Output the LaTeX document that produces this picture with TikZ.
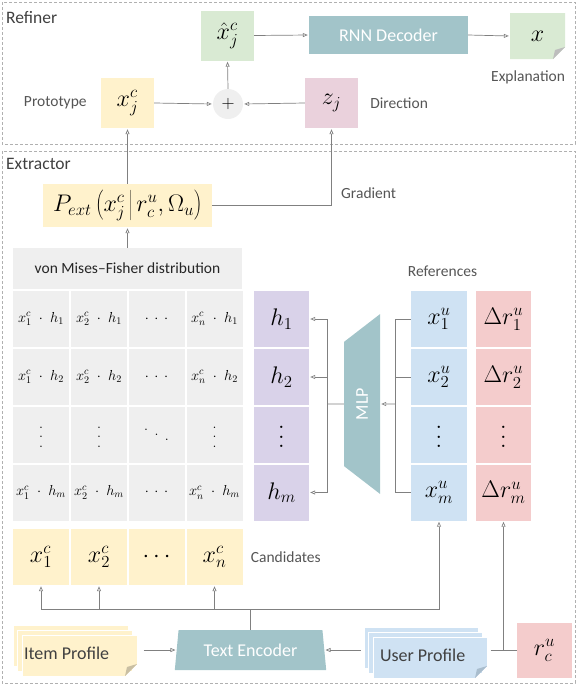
\documentclass[tikz,border=0pt]{standalone}
\usepackage{fix-cm}
\usepackage[no-math]{fontspec}
\setmainfont{Carlito}
\usetikzlibrary{arrows.meta,positioning,shapes.geometric,shadows}

\definecolor{yel}{HTML}{FFF2CC}
\definecolor{grn}{HTML}{D9EAD3}
\definecolor{tealblock}{HTML}{A2C4C9}
\definecolor{pnk}{HTML}{EAD1DC}
\definecolor{prp}{HTML}{D9D2E9}
\definecolor{blu}{HTML}{CFE2F3}
\definecolor{rd}{HTML}{F4CCCC}
\definecolor{cellgray}{HTML}{EFEFEF}
\definecolor{linegray}{HTML}{808080}
\definecolor{framegray}{HTML}{B0B0B0}
\definecolor{labelgray}{HTML}{555555}
\definecolor{titlegray}{HTML}{404040}
\definecolor{foldgray}{HTML}{BDBDBD}
\definecolor{itemfold}{HTML}{C9BFA3}
\definecolor{userfold}{HTML}{A9BDCD}

\newcommand{\bigmath}{\fontsize{24}{28}\selectfont}
\newcommand{\smallmath}{\fontsize{14.5}{17}\selectfont}
% dots with a fixed, wide spacing
\newcommand{\tallvdots}{\vbox{\baselineskip=9.5pt\lineskiplimit=0pt\kern4pt\hbox{$.$}\hbox{$.$}\hbox{$.$}}}
\newcommand{\wideddots}{$\raise10pt\hbox{$.$}\mkern8mu\raise5pt\hbox{$.$}\mkern8mu\hbox{$.$}$}
\newcommand{\widecdots}{${\cdot}\mkern7mu{\cdot}\mkern7mu{\cdot}$}

\tikzset{
  folddoc/.style 2 args={path picture={
    \fill[#1] (path picture bounding box.north west) -- (path picture bounding box.north east)
      -- ([yshift=12pt]path picture bounding box.south east) -- ([xshift=-12pt]path picture bounding box.south east)
      -- (path picture bounding box.south west) -- cycle;
    \fill[#2] ([yshift=12pt]path picture bounding box.south east) -- ([xshift=-12pt]path picture bounding box.south east)
      -- ([xshift=-10pt,yshift=9pt]path picture bounding box.south east) -- cycle;
  }},
}

\begin{document}
\begin{tikzpicture}[x=1pt,y=-1pt,
  mbox/.style={minimum width=53pt,minimum height=50pt,inner sep=0pt,font=\bigmath},
  cellbox/.style={fill=cellgray,minimum width=56pt,minimum height=56pt,inner sep=0pt,font=\smallmath},
  sidebox/.style={minimum width=55pt,minimum height=56pt,inner sep=0pt,font=\bigmath},
  blockbox/.style={fill=tealblock,text=white,inner sep=0pt,font=\fontsize{18}{20}\selectfont},
  lbl/.style={text=labelgray,font=\fontsize{15.5}{18}\selectfont,inner sep=0pt},
  paneltitle/.style={text=titlegray,font=\fontsize{17.5}{20}\selectfont,inner sep=0pt,anchor=north west},
  conn/.style={linegray,line width=0.7pt},
  arr/.style={conn,-{Triangle[open,length=5pt,width=4pt]},shorten >=1pt},
  dashframe/.style={draw=framegray,line width=0.8pt,dash pattern=on 3pt off 2pt},
  profile/.style={draw=white,line width=1pt,minimum height=41pt,text=titlegray,
    font=\fontsize{18}{20}\selectfont},
]
\useasboundingbox (0,0) rectangle (578,686);

% Refiner
\draw[dashframe] (2,2) rectangle (575,144);
\node[paneltitle] (reftitle) at (6,11) {Refiner};
\node[mbox,fill=grn] (xhat) at (227.5,35.5) {$\hat{x}_j^c$};
\node[blockbox,minimum width=159pt,minimum height=38pt] (rnn) at (388.5,35) {RNN Decoder};
\node[mbox,minimum width=55pt,minimum height=46pt,folddoc={grn}{foldgray}] (xexp) at (537.5,36) {$x$};
\node[lbl,anchor=north east] (expl) at ([yshift=-11pt]xexp.south east) {Explanation};
\node[mbox,fill=yel] (proto) at (127.5,103) {$x_j^c$};
\node[lbl,left=14pt of proto] (protolbl) {Prototype};
\node[circle,fill=cellgray,minimum size=30pt,inner sep=0pt,font=\fontsize{18}{18}\selectfont] (plus) at (228,104) {$+$};
\node[mbox,fill=pnk] (zj) at (331.5,103) {$z_j$};
\node[lbl,right=12pt of zj] (dirlbl) {Direction};

\draw[arr] (proto.east) -- (plus.west);
\draw[arr] (zj.west) -- (plus.east);
\draw[arr] (plus.north) -- (xhat.south);
\draw[arr] (xhat.east) -- (rnn.west);
\draw[arr] (rnn.east) -- (xexp.west);

% Extractor
\draw[dashframe] (2,151) rectangle (575,683);
\node[paneltitle] (exttitle) at (6,158) {Extractor};
\node[fill=yel,minimum width=169pt,minimum height=43pt,inner sep=0pt,font=\bigmath] (pext) at (127.5,205.5)
  {$P_{ext}\left(x_j^c \,\middle|\, r_c^u, \Omega_u\right)$};
\node[lbl,anchor=west] (gradlbl) at (341,193) {Gradient};
\node[fill=cellgray,minimum width=229pt,minimum height=41pt,inner sep=0pt,text=black!85,
  font=\fontsize{15.5}{18}\selectfont] (vmf) at (127.5,268.5) {von Mises--Fisher distribution};

\draw[arr] (vmf.north) -- (pext.south);
\draw[arr] (pext.north) -- (proto.south);
\draw[arr] (pext.east) -| (zj.south);

% similarity matrix
\node[cellbox] (m11) at (41,319) {$x_1^c \;\cdot\; h_1$};
\node[cellbox] (m12) at (99,319) {$x_2^c \;\cdot\; h_1$};
\node[cellbox] (m13) at (156.5,319) {\widecdots};
\node[cellbox] (m14) at (214.5,319) {$x_n^c \;\cdot\; h_1$};
\node[cellbox] (m21) at (41,377) {$x_1^c \;\cdot\; h_2$};
\node[cellbox] (m22) at (99,377) {$x_2^c \;\cdot\; h_2$};
\node[cellbox] (m23) at (156.5,377) {\widecdots};
\node[cellbox] (m24) at (214.5,377) {$x_n^c \;\cdot\; h_2$};
\node[cellbox] (m31) at (41,435) {\tallvdots};
\node[cellbox] (m32) at (99,435) {\tallvdots};
\node[cellbox] (m33) at (156.5,435) {\wideddots};
\node[cellbox] (m34) at (214.5,435) {\tallvdots};
\node[cellbox] (m41) at (41,492.5) {$x_1^c \;\cdot\; h_m$};
\node[cellbox] (m42) at (99,492.5) {$x_2^c \;\cdot\; h_m$};
\node[cellbox] (m43) at (156.5,492.5) {\widecdots};
\node[cellbox] (m44) at (214.5,492.5) {$x_n^c \;\cdot\; h_m$};

% candidates
\node[cellbox,fill=yel,font=\bigmath] (c1) at (41,557) {$x_1^c$};
\node[cellbox,fill=yel,font=\bigmath] (c2) at (99,557) {$x_2^c$};
\node[cellbox,fill=yel,font=\bigmath] (c3) at (156.5,557) {$\cdots$};
\node[cellbox,fill=yel,font=\bigmath] (c4) at (214.5,557) {$x_n^c$};
\node[lbl,right=8pt of c4] (candlbl) {Candidates};

% hidden states
\node[sidebox,fill=prp] (h1) at (281.5,319) {$h_1$};
\node[sidebox,fill=prp] (h2) at (281.5,377) {$h_2$};
\node[sidebox,fill=prp] (h3) at (281.5,435) {\tallvdots};
\node[sidebox,fill=prp] (h4) at (281.5,492.5) {$h_m$};

% references
\node[lbl] (reflbl) at (442.5,271) {References};
\node[sidebox,minimum width=56pt,fill=blu] (xu1) at (439,319) {$x_1^u$};
\node[sidebox,minimum width=56pt,fill=blu] (xu2) at (439,377) {$x_2^u$};
\node[sidebox,minimum width=56pt,fill=blu] (xu3) at (439,435) {\tallvdots};
\node[sidebox,minimum width=56pt,fill=blu] (xu4) at (439,492.5) {$x_m^u$};
\node[sidebox,fill=rd] (dr1) at (503.5,319) {$\Delta r_1^u$};
\node[sidebox,fill=rd] (dr2) at (503.5,377) {$\Delta r_2^u$};
\node[sidebox,fill=rd] (dr3) at (503.5,435) {\tallvdots};
\node[sidebox,fill=rd] (dr4) at (503.5,492.5) {$\Delta r_m^u$};

% MLP
\node[trapezium,rotate=90,trapezium left angle=58,trapezium right angle=58,trapezium stretches=true,
  minimum width=180pt,minimum height=36pt,inner sep=0pt,fill=tealblock,text=white,
  font=\fontsize{18}{20}\selectfont] (mlp) at (362,404) {MLP};
\coordinate (hsplit) at (327,404);
\coordinate (xmerge) at (395,404);
\draw[conn] (mlp.north) -- (hsplit);
\draw[arr] (hsplit) |- (h1.east);
\draw[arr] (hsplit) |- (h2.east);
\draw[arr] (hsplit) |- (h4.east);
\draw[conn] (xu1.west) -| (xmerge);
\draw[conn] (xu2.west) -| (xmerge);
\draw[conn] (xu4.west) -| (xmerge);
\draw[arr] (xmerge) -- (mlp.south);

% inputs
\node[trapezium,trapezium left angle=79,trapezium right angle=79,trapezium stretches=true,
  minimum width=152pt,minimum height=40pt,inner sep=0pt,fill=tealblock,text=white,
  font=\fontsize{18}{20}\selectfont] (enc) at (250.5,650) {Text Encoder};
\node[profile,inner xsep=2pt,folddoc={yel}{itemfold},
  double copy shadow={shadow xshift=-4.5pt,shadow yshift=5pt,fill=yel,draw=white,line width=1pt}]
  (item) at (79.5,655.5) {\raisebox{4pt}{\makebox[111pt][l]{Item Profile}}};
\node[profile,inner xsep=7pt,folddoc={blu}{userfold},
  double copy shadow={shadow xshift=-4.5pt,shadow yshift=5pt,fill=blu,draw=white,line width=1pt}]
  (user) at (430,657.5) {\raisebox{5pt}{\makebox[100pt][l]{User Profile}}};
\node[sidebox,fill=rd,minimum height=55pt] (rcu) at (544.5,650.5) {$r_c^u$};

\coordinate (bus) at (250.5,609);
\draw[conn] (enc.north) -- (bus);
\draw[arr] (bus) -| (xu4.south);
\draw[arr] (bus) -| (c1.south);
\draw[arr] (bus) -| (c2.south);
\draw[arr] (bus) -| (c4.south);
\draw[arr,shorten <=6pt] (item.east |- enc.west) -- (enc.west);
\draw[arr,shorten <=12pt] (user.west |- enc.east) -- (enc.east);
\draw[conn,shorten <=3pt] (user.east |- rcu.west) -- (rcu.west);
\draw[arr] (dr4.south |- rcu.west) -- (dr4.south);
\end{tikzpicture}
\end{document}
